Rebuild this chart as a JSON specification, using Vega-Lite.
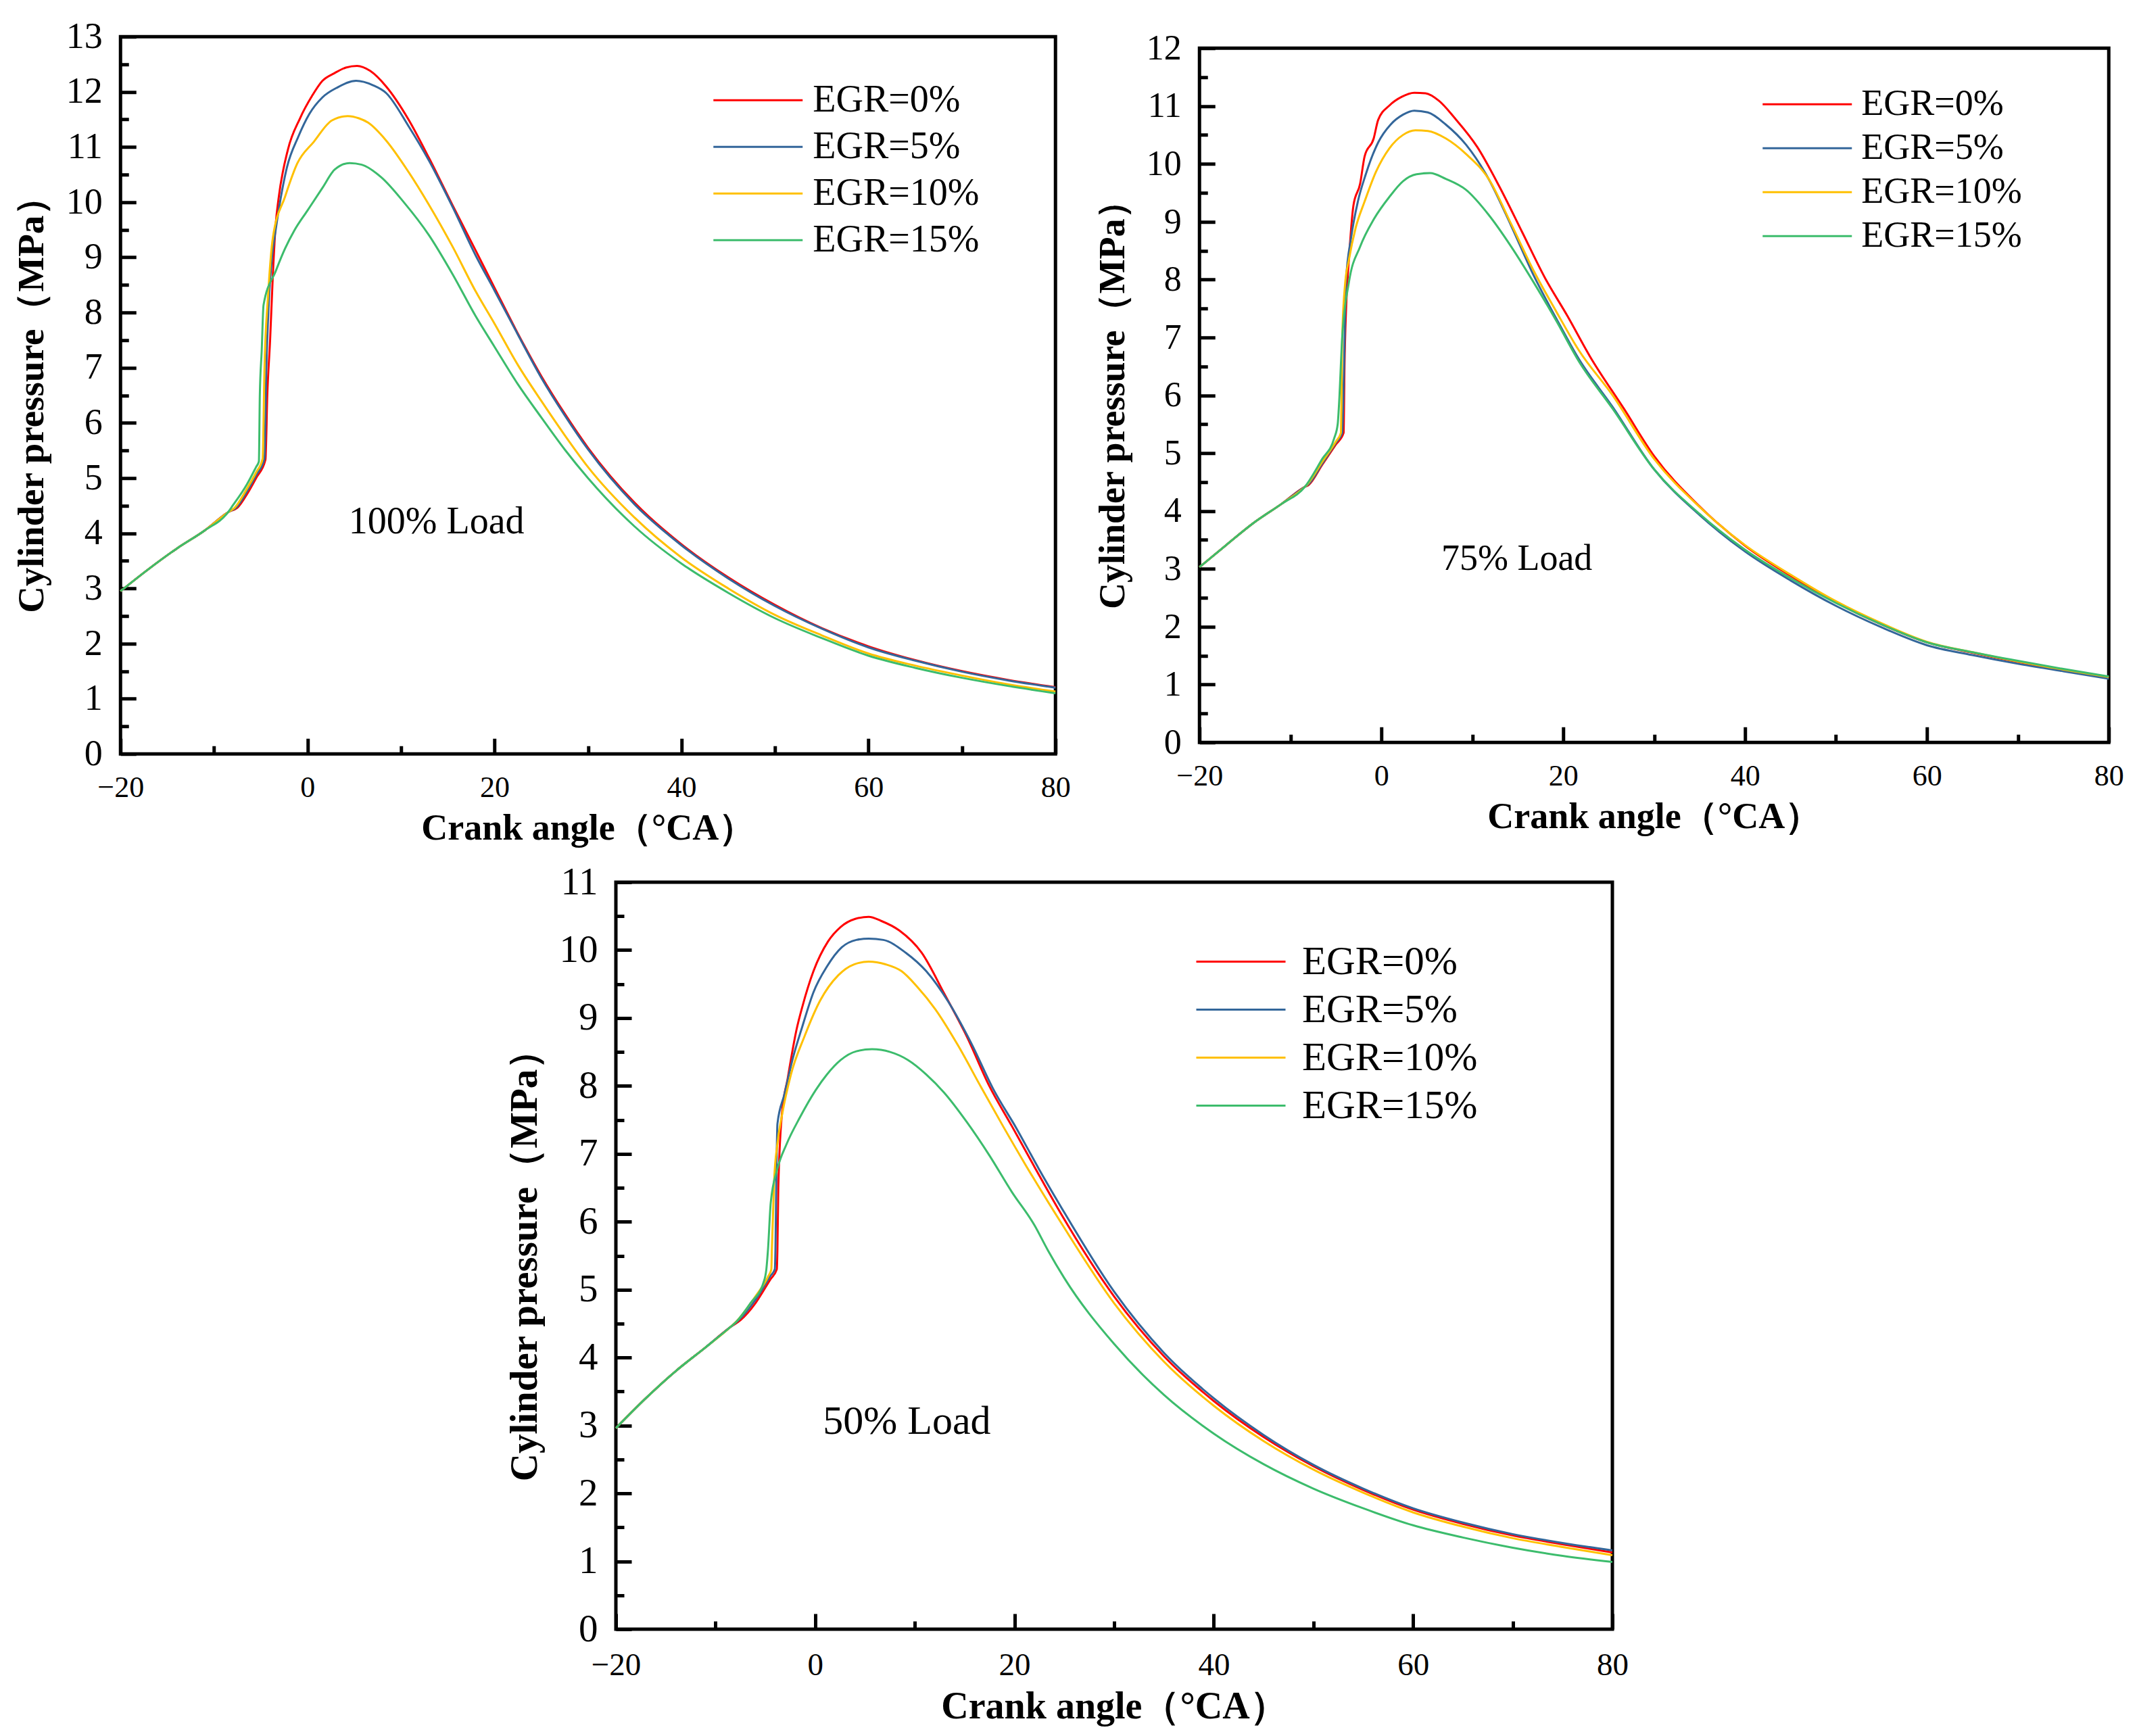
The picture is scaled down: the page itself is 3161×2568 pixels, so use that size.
{
  "$schema": "https://vega.github.io/schema/vega-lite/v6.json",
  "background": "white",
  "padding": {"left": 16, "top": 24, "right": 10, "bottom": 10},
  "config": {
    "font": "Liberation Serif",
    "view": {"stroke": "black", "strokeWidth": 5},
    "line": {"interpolate": "monotone", "strokeWidth": 3, "clip": true},
    "axis": {
      "domain": false,
      "grid": false,
      "tickColor": "black",
      "tickWidth": 5,
      "tickCap": "butt",
      "labelFont": "Liberation Serif",
      "labelColor": "black",
      "labelOverlap": false,
      "labelFlush": false,
      "labelBound": false,
      "titleFont": "Liberation Serif",
      "titleFontWeight": "bold",
      "titleColor": "black"
    },
    "legend": {
      "orient": "none",
      "padding": 0,
      "title": null,
      "symbolType": "M-3,0H3",
      "symbolSize": 1936,
      "symbolStrokeWidth": 3,
      "labelFont": "Liberation Serif",
      "labelColor": "black",
      "labelLimit": 0
    }
  },
  "datasets": {
    "load100": [
      {"egr": "EGR=0%", "angle": -20, "pressure": 2.95},
      {"egr": "EGR=0%", "angle": -17, "pressure": 3.35},
      {"egr": "EGR=0%", "angle": -14, "pressure": 3.72},
      {"egr": "EGR=0%", "angle": -11, "pressure": 4.05},
      {"egr": "EGR=0%", "angle": -8.5, "pressure": 4.38},
      {"egr": "EGR=0%", "angle": -7.4, "pressure": 4.48},
      {"egr": "EGR=0%", "angle": -6.5, "pressure": 4.7},
      {"egr": "EGR=0%", "angle": -5.5, "pressure": 5.0},
      {"egr": "EGR=0%", "angle": -4.5, "pressure": 5.33},
      {"egr": "EGR=0%", "angle": -4.3, "pressure": 6.5},
      {"egr": "EGR=0%", "angle": -4.0, "pressure": 7.5},
      {"egr": "EGR=0%", "angle": -3.7, "pressure": 8.7},
      {"egr": "EGR=0%", "angle": -3.4, "pressure": 9.6},
      {"egr": "EGR=0%", "angle": -3.1, "pressure": 10.06},
      {"egr": "EGR=0%", "angle": -2.1, "pressure": 10.95},
      {"egr": "EGR=0%", "angle": -0.8, "pressure": 11.52},
      {"egr": "EGR=0%", "angle": 0.5, "pressure": 11.93},
      {"egr": "EGR=0%", "angle": 1.6, "pressure": 12.2},
      {"egr": "EGR=0%", "angle": 2.9, "pressure": 12.34},
      {"egr": "EGR=0%", "angle": 4.1, "pressure": 12.44},
      {"egr": "EGR=0%", "angle": 5.3, "pressure": 12.47},
      {"egr": "EGR=0%", "angle": 6.7, "pressure": 12.38},
      {"egr": "EGR=0%", "angle": 8.4, "pressure": 12.1},
      {"egr": "EGR=0%", "angle": 10.8, "pressure": 11.5},
      {"egr": "EGR=0%", "angle": 13, "pressure": 10.8},
      {"egr": "EGR=0%", "angle": 15.5, "pressure": 9.95},
      {"egr": "EGR=0%", "angle": 18, "pressure": 9.12},
      {"egr": "EGR=0%", "angle": 20, "pressure": 8.45},
      {"egr": "EGR=0%", "angle": 22.5, "pressure": 7.62},
      {"egr": "EGR=0%", "angle": 25, "pressure": 6.85},
      {"egr": "EGR=0%", "angle": 27.5, "pressure": 6.17},
      {"egr": "EGR=0%", "angle": 30, "pressure": 5.55},
      {"egr": "EGR=0%", "angle": 35, "pressure": 4.55},
      {"egr": "EGR=0%", "angle": 40, "pressure": 3.8},
      {"egr": "EGR=0%", "angle": 45, "pressure": 3.2},
      {"egr": "EGR=0%", "angle": 50, "pressure": 2.7},
      {"egr": "EGR=0%", "angle": 55, "pressure": 2.28},
      {"egr": "EGR=0%", "angle": 60, "pressure": 1.95},
      {"egr": "EGR=0%", "angle": 65, "pressure": 1.7},
      {"egr": "EGR=0%", "angle": 70, "pressure": 1.5},
      {"egr": "EGR=0%", "angle": 75, "pressure": 1.34},
      {"egr": "EGR=0%", "angle": 80, "pressure": 1.21},

      {"egr": "EGR=5%", "angle": -20, "pressure": 2.95},
      {"egr": "EGR=5%", "angle": -17, "pressure": 3.35},
      {"egr": "EGR=5%", "angle": -14, "pressure": 3.72},
      {"egr": "EGR=5%", "angle": -11, "pressure": 4.05},
      {"egr": "EGR=5%", "angle": -8.5, "pressure": 4.38},
      {"egr": "EGR=5%", "angle": -7.6, "pressure": 4.47},
      {"egr": "EGR=5%", "angle": -6.5, "pressure": 4.75},
      {"egr": "EGR=5%", "angle": -5.5, "pressure": 5.05},
      {"egr": "EGR=5%", "angle": -4.6, "pressure": 5.35},
      {"egr": "EGR=5%", "angle": -4.4, "pressure": 7.0},
      {"egr": "EGR=5%", "angle": -4.1, "pressure": 8.3},
      {"egr": "EGR=5%", "angle": -3.8, "pressure": 9.0},
      {"egr": "EGR=5%", "angle": -3.4, "pressure": 9.5},
      {"egr": "EGR=5%", "angle": -2.2, "pressure": 10.63},
      {"egr": "EGR=5%", "angle": -1.0, "pressure": 11.18},
      {"egr": "EGR=5%", "angle": 0.2, "pressure": 11.6},
      {"egr": "EGR=5%", "angle": 1.6, "pressure": 11.9},
      {"egr": "EGR=5%", "angle": 3.2, "pressure": 12.08},
      {"egr": "EGR=5%", "angle": 5.2, "pressure": 12.2},
      {"egr": "EGR=5%", "angle": 7.0, "pressure": 12.12},
      {"egr": "EGR=5%", "angle": 8.4, "pressure": 11.98},
      {"egr": "EGR=5%", "angle": 10.8, "pressure": 11.38},
      {"egr": "EGR=5%", "angle": 13, "pressure": 10.75},
      {"egr": "EGR=5%", "angle": 15.5, "pressure": 9.92},
      {"egr": "EGR=5%", "angle": 18, "pressure": 9.03},
      {"egr": "EGR=5%", "angle": 20, "pressure": 8.4},
      {"egr": "EGR=5%", "angle": 22.5, "pressure": 7.6},
      {"egr": "EGR=5%", "angle": 25, "pressure": 6.82},
      {"egr": "EGR=5%", "angle": 27.5, "pressure": 6.14},
      {"egr": "EGR=5%", "angle": 30, "pressure": 5.52},
      {"egr": "EGR=5%", "angle": 35, "pressure": 4.52},
      {"egr": "EGR=5%", "angle": 40, "pressure": 3.78},
      {"egr": "EGR=5%", "angle": 45, "pressure": 3.18},
      {"egr": "EGR=5%", "angle": 50, "pressure": 2.68},
      {"egr": "EGR=5%", "angle": 55, "pressure": 2.27},
      {"egr": "EGR=5%", "angle": 60, "pressure": 1.93},
      {"egr": "EGR=5%", "angle": 65, "pressure": 1.69},
      {"egr": "EGR=5%", "angle": 70, "pressure": 1.49},
      {"egr": "EGR=5%", "angle": 75, "pressure": 1.33},
      {"egr": "EGR=5%", "angle": 80, "pressure": 1.2},

      {"egr": "EGR=10%", "angle": -20, "pressure": 2.95},
      {"egr": "EGR=10%", "angle": -17, "pressure": 3.35},
      {"egr": "EGR=10%", "angle": -14, "pressure": 3.72},
      {"egr": "EGR=10%", "angle": -11, "pressure": 4.05},
      {"egr": "EGR=10%", "angle": -8.5, "pressure": 4.38},
      {"egr": "EGR=10%", "angle": -7.8, "pressure": 4.46},
      {"egr": "EGR=10%", "angle": -6.5, "pressure": 4.8},
      {"egr": "EGR=10%", "angle": -5.5, "pressure": 5.1},
      {"egr": "EGR=10%", "angle": -4.8, "pressure": 5.35},
      {"egr": "EGR=10%", "angle": -4.6, "pressure": 7.0},
      {"egr": "EGR=10%", "angle": -4.2, "pressure": 8.35},
      {"egr": "EGR=10%", "angle": -3.7, "pressure": 9.36},
      {"egr": "EGR=10%", "angle": -2.4, "pressure": 10.1},
      {"egr": "EGR=10%", "angle": -1.1, "pressure": 10.7},
      {"egr": "EGR=10%", "angle": 0.7, "pressure": 11.1},
      {"egr": "EGR=10%", "angle": 2.6, "pressure": 11.48},
      {"egr": "EGR=10%", "angle": 4.3, "pressure": 11.56},
      {"egr": "EGR=10%", "angle": 5.5, "pressure": 11.52},
      {"egr": "EGR=10%", "angle": 6.5, "pressure": 11.44},
      {"egr": "EGR=10%", "angle": 8.4, "pressure": 11.12},
      {"egr": "EGR=10%", "angle": 10.8, "pressure": 10.55},
      {"egr": "EGR=10%", "angle": 13, "pressure": 9.95},
      {"egr": "EGR=10%", "angle": 15.5, "pressure": 9.2},
      {"egr": "EGR=10%", "angle": 18, "pressure": 8.38},
      {"egr": "EGR=10%", "angle": 20, "pressure": 7.8},
      {"egr": "EGR=10%", "angle": 22.5, "pressure": 7.05},
      {"egr": "EGR=10%", "angle": 25, "pressure": 6.4},
      {"egr": "EGR=10%", "angle": 27.5, "pressure": 5.78},
      {"egr": "EGR=10%", "angle": 30, "pressure": 5.2},
      {"egr": "EGR=10%", "angle": 35, "pressure": 4.28},
      {"egr": "EGR=10%", "angle": 40, "pressure": 3.56},
      {"egr": "EGR=10%", "angle": 45, "pressure": 3.0},
      {"egr": "EGR=10%", "angle": 50, "pressure": 2.52},
      {"egr": "EGR=10%", "angle": 55, "pressure": 2.15},
      {"egr": "EGR=10%", "angle": 60, "pressure": 1.82},
      {"egr": "EGR=10%", "angle": 65, "pressure": 1.6},
      {"egr": "EGR=10%", "angle": 70, "pressure": 1.42},
      {"egr": "EGR=10%", "angle": 75, "pressure": 1.26},
      {"egr": "EGR=10%", "angle": 80, "pressure": 1.13},

      {"egr": "EGR=15%", "angle": -20, "pressure": 2.95},
      {"egr": "EGR=15%", "angle": -17, "pressure": 3.35},
      {"egr": "EGR=15%", "angle": -14, "pressure": 3.72},
      {"egr": "EGR=15%", "angle": -11, "pressure": 4.05},
      {"egr": "EGR=15%", "angle": -8.5, "pressure": 4.38},
      {"egr": "EGR=15%", "angle": -8.0, "pressure": 4.5},
      {"egr": "EGR=15%", "angle": -6.5, "pressure": 4.88},
      {"egr": "EGR=15%", "angle": -5.5, "pressure": 5.2},
      {"egr": "EGR=15%", "angle": -5.2, "pressure": 5.3},
      {"egr": "EGR=15%", "angle": -5.1, "pressure": 6.5},
      {"egr": "EGR=15%", "angle": -4.9, "pressure": 7.3},
      {"egr": "EGR=15%", "angle": -4.7, "pressure": 8.14},
      {"egr": "EGR=15%", "angle": -3.4, "pressure": 8.75},
      {"egr": "EGR=15%", "angle": -2.4, "pressure": 9.16},
      {"egr": "EGR=15%", "angle": -1.4, "pressure": 9.49},
      {"egr": "EGR=15%", "angle": 0.0, "pressure": 9.85},
      {"egr": "EGR=15%", "angle": 1.6, "pressure": 10.26},
      {"egr": "EGR=15%", "angle": 2.9, "pressure": 10.59},
      {"egr": "EGR=15%", "angle": 4.5, "pressure": 10.71},
      {"egr": "EGR=15%", "angle": 5.8, "pressure": 10.68},
      {"egr": "EGR=15%", "angle": 7.9, "pressure": 10.45},
      {"egr": "EGR=15%", "angle": 10.3, "pressure": 10.0},
      {"egr": "EGR=15%", "angle": 13, "pressure": 9.4},
      {"egr": "EGR=15%", "angle": 15.5, "pressure": 8.7},
      {"egr": "EGR=15%", "angle": 18, "pressure": 7.93},
      {"egr": "EGR=15%", "angle": 20, "pressure": 7.38},
      {"egr": "EGR=15%", "angle": 22.5, "pressure": 6.7},
      {"egr": "EGR=15%", "angle": 25, "pressure": 6.1},
      {"egr": "EGR=15%", "angle": 27.5, "pressure": 5.52},
      {"egr": "EGR=15%", "angle": 30, "pressure": 5.0},
      {"egr": "EGR=15%", "angle": 35, "pressure": 4.12},
      {"egr": "EGR=15%", "angle": 40, "pressure": 3.45},
      {"egr": "EGR=15%", "angle": 45, "pressure": 2.92},
      {"egr": "EGR=15%", "angle": 50, "pressure": 2.46},
      {"egr": "EGR=15%", "angle": 55, "pressure": 2.1},
      {"egr": "EGR=15%", "angle": 60, "pressure": 1.78},
      {"egr": "EGR=15%", "angle": 65, "pressure": 1.56},
      {"egr": "EGR=15%", "angle": 70, "pressure": 1.38},
      {"egr": "EGR=15%", "angle": 75, "pressure": 1.23},
      {"egr": "EGR=15%", "angle": 80, "pressure": 1.1}
    ],
    "load75": [
      {"egr": "EGR=0%", "angle": -20, "pressure": 3.03},
      {"egr": "EGR=0%", "angle": -17, "pressure": 3.42},
      {"egr": "EGR=0%", "angle": -14, "pressure": 3.8},
      {"egr": "EGR=0%", "angle": -11, "pressure": 4.12},
      {"egr": "EGR=0%", "angle": -8.4, "pressure": 4.42},
      {"egr": "EGR=0%", "angle": -8.0, "pressure": 4.45},
      {"egr": "EGR=0%", "angle": -6.5, "pressure": 4.8},
      {"egr": "EGR=0%", "angle": -5, "pressure": 5.15},
      {"egr": "EGR=0%", "angle": -4.15, "pressure": 5.35},
      {"egr": "EGR=0%", "angle": -4.05, "pressure": 6.5},
      {"egr": "EGR=0%", "angle": -3.85, "pressure": 7.6},
      {"egr": "EGR=0%", "angle": -3.57, "pressure": 8.34},
      {"egr": "EGR=0%", "angle": -3.07, "pressure": 9.28},
      {"egr": "EGR=0%", "angle": -2.33, "pressure": 9.66},
      {"egr": "EGR=0%", "angle": -1.84, "pressure": 10.13},
      {"egr": "EGR=0%", "angle": -0.84, "pressure": 10.44},
      {"egr": "EGR=0%", "angle": -0.35, "pressure": 10.76},
      {"egr": "EGR=0%", "angle": 0.89, "pressure": 11.01},
      {"egr": "EGR=0%", "angle": 2.25, "pressure": 11.16},
      {"egr": "EGR=0%", "angle": 3.62, "pressure": 11.23},
      {"egr": "EGR=0%", "angle": 4.86, "pressure": 11.22},
      {"egr": "EGR=0%", "angle": 6.34, "pressure": 11.09},
      {"egr": "EGR=0%", "angle": 8.08, "pressure": 10.79},
      {"egr": "EGR=0%", "angle": 10.56, "pressure": 10.29},
      {"egr": "EGR=0%", "angle": 13.04, "pressure": 9.59},
      {"egr": "EGR=0%", "angle": 15.52, "pressure": 8.81},
      {"egr": "EGR=0%", "angle": 17.99, "pressure": 8.03},
      {"egr": "EGR=0%", "angle": 20.47, "pressure": 7.37},
      {"egr": "EGR=0%", "angle": 22.95, "pressure": 6.67},
      {"egr": "EGR=0%", "angle": 26.67, "pressure": 5.77},
      {"egr": "EGR=0%", "angle": 30, "pressure": 4.95},
      {"egr": "EGR=0%", "angle": 35, "pressure": 4.08},
      {"egr": "EGR=0%", "angle": 40, "pressure": 3.4},
      {"egr": "EGR=0%", "angle": 45, "pressure": 2.88},
      {"egr": "EGR=0%", "angle": 50, "pressure": 2.42},
      {"egr": "EGR=0%", "angle": 55, "pressure": 2.04},
      {"egr": "EGR=0%", "angle": 60, "pressure": 1.73},
      {"egr": "EGR=0%", "angle": 65, "pressure": 1.55},
      {"egr": "EGR=0%", "angle": 70, "pressure": 1.39},
      {"egr": "EGR=0%", "angle": 75, "pressure": 1.25},
      {"egr": "EGR=0%", "angle": 80, "pressure": 1.12},

      {"egr": "EGR=5%", "angle": -20, "pressure": 3.03},
      {"egr": "EGR=5%", "angle": -17, "pressure": 3.42},
      {"egr": "EGR=5%", "angle": -14, "pressure": 3.8},
      {"egr": "EGR=5%", "angle": -11, "pressure": 4.12},
      {"egr": "EGR=5%", "angle": -8.4, "pressure": 4.42},
      {"egr": "EGR=5%", "angle": -8.1, "pressure": 4.45},
      {"egr": "EGR=5%", "angle": -6.5, "pressure": 4.82},
      {"egr": "EGR=5%", "angle": -5, "pressure": 5.18},
      {"egr": "EGR=5%", "angle": -4.3, "pressure": 5.35},
      {"egr": "EGR=5%", "angle": -4.1, "pressure": 6.5},
      {"egr": "EGR=5%", "angle": -3.9, "pressure": 7.95},
      {"egr": "EGR=5%", "angle": -3.32, "pressure": 8.73},
      {"egr": "EGR=5%", "angle": -2.58, "pressure": 9.35},
      {"egr": "EGR=5%", "angle": -1.71, "pressure": 9.82},
      {"egr": "EGR=5%", "angle": -0.35, "pressure": 10.37},
      {"egr": "EGR=5%", "angle": 1.02, "pressure": 10.68},
      {"egr": "EGR=5%", "angle": 2.38, "pressure": 10.85},
      {"egr": "EGR=5%", "angle": 3.62, "pressure": 10.92},
      {"egr": "EGR=5%", "angle": 5.11, "pressure": 10.89},
      {"egr": "EGR=5%", "angle": 7.09, "pressure": 10.68},
      {"egr": "EGR=5%", "angle": 9.32, "pressure": 10.33},
      {"egr": "EGR=5%", "angle": 11.8, "pressure": 9.74},
      {"egr": "EGR=5%", "angle": 14.28, "pressure": 8.93},
      {"egr": "EGR=5%", "angle": 16.76, "pressure": 8.07},
      {"egr": "EGR=5%", "angle": 19.23, "pressure": 7.33},
      {"egr": "EGR=5%", "angle": 21.71, "pressure": 6.63},
      {"egr": "EGR=5%", "angle": 25.43, "pressure": 5.8},
      {"egr": "EGR=5%", "angle": 30, "pressure": 4.72},
      {"egr": "EGR=5%", "angle": 35, "pressure": 3.93},
      {"egr": "EGR=5%", "angle": 40, "pressure": 3.3},
      {"egr": "EGR=5%", "angle": 45, "pressure": 2.8},
      {"egr": "EGR=5%", "angle": 50, "pressure": 2.36},
      {"egr": "EGR=5%", "angle": 55, "pressure": 1.99},
      {"egr": "EGR=5%", "angle": 60, "pressure": 1.68},
      {"egr": "EGR=5%", "angle": 65, "pressure": 1.51},
      {"egr": "EGR=5%", "angle": 70, "pressure": 1.36},
      {"egr": "EGR=5%", "angle": 75, "pressure": 1.23},
      {"egr": "EGR=5%", "angle": 80, "pressure": 1.1},

      {"egr": "EGR=10%", "angle": -20, "pressure": 3.03},
      {"egr": "EGR=10%", "angle": -17, "pressure": 3.42},
      {"egr": "EGR=10%", "angle": -14, "pressure": 3.8},
      {"egr": "EGR=10%", "angle": -11, "pressure": 4.12},
      {"egr": "EGR=10%", "angle": -8.4, "pressure": 4.42},
      {"egr": "EGR=10%", "angle": -8.2, "pressure": 4.45},
      {"egr": "EGR=10%", "angle": -6.5, "pressure": 4.85},
      {"egr": "EGR=10%", "angle": -5, "pressure": 5.2},
      {"egr": "EGR=10%", "angle": -4.45, "pressure": 5.35},
      {"egr": "EGR=10%", "angle": -4.3, "pressure": 7.0},
      {"egr": "EGR=10%", "angle": -4.0, "pressure": 7.9},
      {"egr": "EGR=10%", "angle": -3.57, "pressure": 8.34},
      {"egr": "EGR=10%", "angle": -2.83, "pressure": 8.89},
      {"egr": "EGR=10%", "angle": -1.84, "pressure": 9.35},
      {"egr": "EGR=10%", "angle": -0.6, "pressure": 9.86},
      {"egr": "EGR=10%", "angle": 0.89, "pressure": 10.27},
      {"egr": "EGR=10%", "angle": 2.38, "pressure": 10.5},
      {"egr": "EGR=10%", "angle": 3.75, "pressure": 10.58},
      {"egr": "EGR=10%", "angle": 5.11, "pressure": 10.57},
      {"egr": "EGR=10%", "angle": 7.09, "pressure": 10.44},
      {"egr": "EGR=10%", "angle": 9.32, "pressure": 10.17},
      {"egr": "EGR=10%", "angle": 11.8, "pressure": 9.74},
      {"egr": "EGR=10%", "angle": 14.28, "pressure": 8.96},
      {"egr": "EGR=10%", "angle": 16.76, "pressure": 8.15},
      {"egr": "EGR=10%", "angle": 19.23, "pressure": 7.45},
      {"egr": "EGR=10%", "angle": 21.71, "pressure": 6.78},
      {"egr": "EGR=10%", "angle": 25.43, "pressure": 6.0},
      {"egr": "EGR=10%", "angle": 30, "pressure": 4.9},
      {"egr": "EGR=10%", "angle": 35, "pressure": 4.07},
      {"egr": "EGR=10%", "angle": 40, "pressure": 3.41},
      {"egr": "EGR=10%", "angle": 45, "pressure": 2.9},
      {"egr": "EGR=10%", "angle": 50, "pressure": 2.44},
      {"egr": "EGR=10%", "angle": 55, "pressure": 2.06},
      {"egr": "EGR=10%", "angle": 60, "pressure": 1.74},
      {"egr": "EGR=10%", "angle": 65, "pressure": 1.56},
      {"egr": "EGR=10%", "angle": 70, "pressure": 1.4},
      {"egr": "EGR=10%", "angle": 75, "pressure": 1.26},
      {"egr": "EGR=10%", "angle": 80, "pressure": 1.13},

      {"egr": "EGR=15%", "angle": -20, "pressure": 3.03},
      {"egr": "EGR=15%", "angle": -17, "pressure": 3.42},
      {"egr": "EGR=15%", "angle": -14, "pressure": 3.8},
      {"egr": "EGR=15%", "angle": -11, "pressure": 4.12},
      {"egr": "EGR=15%", "angle": -8.4, "pressure": 4.42},
      {"egr": "EGR=15%", "angle": -6.5, "pressure": 4.9},
      {"egr": "EGR=15%", "angle": -5.2, "pressure": 5.25},
      {"egr": "EGR=15%", "angle": -4.8, "pressure": 5.5},
      {"egr": "EGR=15%", "angle": -4.68, "pressure": 5.77},
      {"egr": "EGR=15%", "angle": -4.31, "pressure": 6.98},
      {"egr": "EGR=15%", "angle": -3.57, "pressure": 7.95},
      {"egr": "EGR=15%", "angle": -2.33, "pressure": 8.57},
      {"egr": "EGR=15%", "angle": -0.84, "pressure": 9.04},
      {"egr": "EGR=15%", "angle": 0.89, "pressure": 9.43},
      {"egr": "EGR=15%", "angle": 2.38, "pressure": 9.7},
      {"egr": "EGR=15%", "angle": 3.87, "pressure": 9.82},
      {"egr": "EGR=15%", "angle": 5.36, "pressure": 9.84},
      {"egr": "EGR=15%", "angle": 7.09, "pressure": 9.74},
      {"egr": "EGR=15%", "angle": 9.32, "pressure": 9.55},
      {"egr": "EGR=15%", "angle": 11.8, "pressure": 9.12},
      {"egr": "EGR=15%", "angle": 14.28, "pressure": 8.57},
      {"egr": "EGR=15%", "angle": 16.76, "pressure": 7.95},
      {"egr": "EGR=15%", "angle": 19.23, "pressure": 7.29},
      {"egr": "EGR=15%", "angle": 21.71, "pressure": 6.59},
      {"egr": "EGR=15%", "angle": 25.43, "pressure": 5.77},
      {"egr": "EGR=15%", "angle": 30, "pressure": 4.72},
      {"egr": "EGR=15%", "angle": 35, "pressure": 3.95},
      {"egr": "EGR=15%", "angle": 40, "pressure": 3.33},
      {"egr": "EGR=15%", "angle": 45, "pressure": 2.84},
      {"egr": "EGR=15%", "angle": 50, "pressure": 2.41},
      {"egr": "EGR=15%", "angle": 55, "pressure": 2.04},
      {"egr": "EGR=15%", "angle": 60, "pressure": 1.73},
      {"egr": "EGR=15%", "angle": 65, "pressure": 1.56},
      {"egr": "EGR=15%", "angle": 70, "pressure": 1.41},
      {"egr": "EGR=15%", "angle": 75, "pressure": 1.27},
      {"egr": "EGR=15%", "angle": 80, "pressure": 1.14}
    ],
    "load50": [
      {"egr": "EGR=0%", "angle": -20, "pressure": 2.96},
      {"egr": "EGR=0%", "angle": -17, "pressure": 3.4},
      {"egr": "EGR=0%", "angle": -14, "pressure": 3.8},
      {"egr": "EGR=0%", "angle": -11, "pressure": 4.15},
      {"egr": "EGR=0%", "angle": -8.5, "pressure": 4.45},
      {"egr": "EGR=0%", "angle": -7.5, "pressure": 4.55},
      {"egr": "EGR=0%", "angle": -6, "pressure": 4.8},
      {"egr": "EGR=0%", "angle": -4.5, "pressure": 5.15},
      {"egr": "EGR=0%", "angle": -3.85, "pressure": 5.3},
      {"egr": "EGR=0%", "angle": -3.79, "pressure": 5.58},
      {"egr": "EGR=0%", "angle": -3.7, "pressure": 6.5},
      {"egr": "EGR=0%", "angle": -3.33, "pressure": 7.6},
      {"egr": "EGR=0%", "angle": -2.77, "pressure": 8.1},
      {"egr": "EGR=0%", "angle": -1.87, "pressure": 8.83},
      {"egr": "EGR=0%", "angle": -1.3, "pressure": 9.16},
      {"egr": "EGR=0%", "angle": -0.17, "pressure": 9.69},
      {"egr": "EGR=0%", "angle": 1.3, "pressure": 10.13},
      {"egr": "EGR=0%", "angle": 2.55, "pressure": 10.34},
      {"egr": "EGR=0%", "angle": 4.02, "pressure": 10.46},
      {"egr": "EGR=0%", "angle": 5.37, "pressure": 10.49},
      {"egr": "EGR=0%", "angle": 6.62, "pressure": 10.43},
      {"egr": "EGR=0%", "angle": 8.43, "pressure": 10.29},
      {"egr": "EGR=0%", "angle": 10.69, "pressure": 9.96},
      {"egr": "EGR=0%", "angle": 12.95, "pressure": 9.36},
      {"egr": "EGR=0%", "angle": 15.21, "pressure": 8.73},
      {"egr": "EGR=0%", "angle": 17.47, "pressure": 8.0},
      {"egr": "EGR=0%", "angle": 19.73, "pressure": 7.41},
      {"egr": "EGR=0%", "angle": 22.0, "pressure": 6.81},
      {"egr": "EGR=0%", "angle": 24.7, "pressure": 6.11},
      {"egr": "EGR=0%", "angle": 30, "pressure": 4.9},
      {"egr": "EGR=0%", "angle": 35, "pressure": 4.02},
      {"egr": "EGR=0%", "angle": 40, "pressure": 3.36},
      {"egr": "EGR=0%", "angle": 45, "pressure": 2.83},
      {"egr": "EGR=0%", "angle": 50, "pressure": 2.4},
      {"egr": "EGR=0%", "angle": 55, "pressure": 2.05},
      {"egr": "EGR=0%", "angle": 60, "pressure": 1.76},
      {"egr": "EGR=0%", "angle": 65, "pressure": 1.55},
      {"egr": "EGR=0%", "angle": 70, "pressure": 1.38},
      {"egr": "EGR=0%", "angle": 75, "pressure": 1.25},
      {"egr": "EGR=0%", "angle": 80, "pressure": 1.13},

      {"egr": "EGR=5%", "angle": -20, "pressure": 2.96},
      {"egr": "EGR=5%", "angle": -17, "pressure": 3.4},
      {"egr": "EGR=5%", "angle": -14, "pressure": 3.8},
      {"egr": "EGR=5%", "angle": -11, "pressure": 4.15},
      {"egr": "EGR=5%", "angle": -8.5, "pressure": 4.45},
      {"egr": "EGR=5%", "angle": -7.7, "pressure": 4.55},
      {"egr": "EGR=5%", "angle": -6, "pressure": 4.85},
      {"egr": "EGR=5%", "angle": -4.5, "pressure": 5.2},
      {"egr": "EGR=5%", "angle": -4.05, "pressure": 5.3},
      {"egr": "EGR=5%", "angle": -3.99, "pressure": 5.58},
      {"egr": "EGR=5%", "angle": -3.9, "pressure": 6.6},
      {"egr": "EGR=5%", "angle": -3.79, "pressure": 7.44},
      {"egr": "EGR=5%", "angle": -3.1, "pressure": 7.87},
      {"egr": "EGR=5%", "angle": -2.2, "pressure": 8.43},
      {"egr": "EGR=5%", "angle": -1.3, "pressure": 8.87},
      {"egr": "EGR=5%", "angle": -0.17, "pressure": 9.38},
      {"egr": "EGR=5%", "angle": 1.19, "pressure": 9.76},
      {"egr": "EGR=5%", "angle": 2.66, "pressure": 10.04},
      {"egr": "EGR=5%", "angle": 4.13, "pressure": 10.15},
      {"egr": "EGR=5%", "angle": 5.37, "pressure": 10.17},
      {"egr": "EGR=5%", "angle": 6.84, "pressure": 10.15},
      {"egr": "EGR=5%", "angle": 9.1, "pressure": 9.96},
      {"egr": "EGR=5%", "angle": 11.14, "pressure": 9.69},
      {"egr": "EGR=5%", "angle": 13.4, "pressure": 9.23},
      {"egr": "EGR=5%", "angle": 15.66, "pressure": 8.63},
      {"egr": "EGR=5%", "angle": 17.92, "pressure": 7.94},
      {"egr": "EGR=5%", "angle": 20.18, "pressure": 7.38},
      {"egr": "EGR=5%", "angle": 22.44, "pressure": 6.78},
      {"egr": "EGR=5%", "angle": 24.7, "pressure": 6.21},
      {"egr": "EGR=5%", "angle": 30, "pressure": 4.97},
      {"egr": "EGR=5%", "angle": 35, "pressure": 4.07},
      {"egr": "EGR=5%", "angle": 40, "pressure": 3.4},
      {"egr": "EGR=5%", "angle": 45, "pressure": 2.86},
      {"egr": "EGR=5%", "angle": 50, "pressure": 2.42},
      {"egr": "EGR=5%", "angle": 55, "pressure": 2.07},
      {"egr": "EGR=5%", "angle": 60, "pressure": 1.78},
      {"egr": "EGR=5%", "angle": 65, "pressure": 1.57},
      {"egr": "EGR=5%", "angle": 70, "pressure": 1.4},
      {"egr": "EGR=5%", "angle": 75, "pressure": 1.27},
      {"egr": "EGR=5%", "angle": 80, "pressure": 1.16},

      {"egr": "EGR=10%", "angle": -20, "pressure": 2.96},
      {"egr": "EGR=10%", "angle": -17, "pressure": 3.4},
      {"egr": "EGR=10%", "angle": -14, "pressure": 3.8},
      {"egr": "EGR=10%", "angle": -11, "pressure": 4.15},
      {"egr": "EGR=10%", "angle": -8.5, "pressure": 4.45},
      {"egr": "EGR=10%", "angle": -7.8, "pressure": 4.55},
      {"egr": "EGR=10%", "angle": -6, "pressure": 4.9},
      {"egr": "EGR=10%", "angle": -4.7, "pressure": 5.2},
      {"egr": "EGR=10%", "angle": -4.4, "pressure": 5.3},
      {"egr": "EGR=10%", "angle": -4.35, "pressure": 5.58},
      {"egr": "EGR=10%", "angle": -4.12, "pressure": 6.6},
      {"egr": "EGR=10%", "angle": -3.79, "pressure": 7.15},
      {"egr": "EGR=10%", "angle": -3.33, "pressure": 7.57},
      {"egr": "EGR=10%", "angle": -2.43, "pressure": 8.17},
      {"egr": "EGR=10%", "angle": -1.07, "pressure": 8.73},
      {"egr": "EGR=10%", "angle": 0.51, "pressure": 9.26},
      {"egr": "EGR=10%", "angle": 2.32, "pressure": 9.63},
      {"egr": "EGR=10%", "angle": 3.9, "pressure": 9.79},
      {"egr": "EGR=10%", "angle": 5.37, "pressure": 9.83},
      {"egr": "EGR=10%", "angle": 7.07, "pressure": 9.79},
      {"egr": "EGR=10%", "angle": 8.66, "pressure": 9.69},
      {"egr": "EGR=10%", "angle": 10.24, "pressure": 9.46},
      {"egr": "EGR=10%", "angle": 12.05, "pressure": 9.13},
      {"egr": "EGR=10%", "angle": 14.32, "pressure": 8.6},
      {"egr": "EGR=10%", "angle": 16.58, "pressure": 8.0},
      {"egr": "EGR=10%", "angle": 18.84, "pressure": 7.41},
      {"egr": "EGR=10%", "angle": 21.1, "pressure": 6.84},
      {"egr": "EGR=10%", "angle": 24.7, "pressure": 5.98},
      {"egr": "EGR=10%", "angle": 30, "pressure": 4.8},
      {"egr": "EGR=10%", "angle": 35, "pressure": 3.94},
      {"egr": "EGR=10%", "angle": 40, "pressure": 3.29},
      {"egr": "EGR=10%", "angle": 45, "pressure": 2.77},
      {"egr": "EGR=10%", "angle": 50, "pressure": 2.35},
      {"egr": "EGR=10%", "angle": 55, "pressure": 2.01},
      {"egr": "EGR=10%", "angle": 60, "pressure": 1.72},
      {"egr": "EGR=10%", "angle": 65, "pressure": 1.51},
      {"egr": "EGR=10%", "angle": 70, "pressure": 1.34},
      {"egr": "EGR=10%", "angle": 75, "pressure": 1.21},
      {"egr": "EGR=10%", "angle": 80, "pressure": 1.09},

      {"egr": "EGR=15%", "angle": -20, "pressure": 2.96},
      {"egr": "EGR=15%", "angle": -17, "pressure": 3.4},
      {"egr": "EGR=15%", "angle": -14, "pressure": 3.8},
      {"egr": "EGR=15%", "angle": -11, "pressure": 4.15},
      {"egr": "EGR=15%", "angle": -8.5, "pressure": 4.45},
      {"egr": "EGR=15%", "angle": -8.1, "pressure": 4.5},
      {"egr": "EGR=15%", "angle": -6.5, "pressure": 4.8},
      {"egr": "EGR=15%", "angle": -5.2, "pressure": 5.1},
      {"egr": "EGR=15%", "angle": -4.9, "pressure": 5.3},
      {"egr": "EGR=15%", "angle": -4.74, "pressure": 5.58},
      {"egr": "EGR=15%", "angle": -4.46, "pressure": 6.28},
      {"egr": "EGR=15%", "angle": -3.79, "pressure": 6.78},
      {"egr": "EGR=15%", "angle": -2.88, "pressure": 7.14},
      {"egr": "EGR=15%", "angle": -1.52, "pressure": 7.54},
      {"egr": "EGR=15%", "angle": 0.06, "pressure": 7.94},
      {"egr": "EGR=15%", "angle": 1.19, "pressure": 8.17},
      {"egr": "EGR=15%", "angle": 2.55, "pressure": 8.38},
      {"egr": "EGR=15%", "angle": 4.13, "pressure": 8.51},
      {"egr": "EGR=15%", "angle": 5.71, "pressure": 8.54},
      {"egr": "EGR=15%", "angle": 7.52, "pressure": 8.5},
      {"egr": "EGR=15%", "angle": 9.33, "pressure": 8.38},
      {"egr": "EGR=15%", "angle": 11.14, "pressure": 8.17},
      {"egr": "EGR=15%", "angle": 12.95, "pressure": 7.9},
      {"egr": "EGR=15%", "angle": 15.21, "pressure": 7.47},
      {"egr": "EGR=15%", "angle": 17.47, "pressure": 6.98},
      {"egr": "EGR=15%", "angle": 19.73, "pressure": 6.44},
      {"egr": "EGR=15%", "angle": 22.0, "pressure": 5.95},
      {"egr": "EGR=15%", "angle": 23.35, "pressure": 5.58},
      {"egr": "EGR=15%", "angle": 25, "pressure": 5.17},
      {"egr": "EGR=15%", "angle": 30, "pressure": 4.2},
      {"egr": "EGR=15%", "angle": 35, "pressure": 3.45},
      {"egr": "EGR=15%", "angle": 40, "pressure": 2.88},
      {"egr": "EGR=15%", "angle": 45, "pressure": 2.43},
      {"egr": "EGR=15%", "angle": 50, "pressure": 2.07},
      {"egr": "EGR=15%", "angle": 55, "pressure": 1.78},
      {"egr": "EGR=15%", "angle": 60, "pressure": 1.53},
      {"egr": "EGR=15%", "angle": 65, "pressure": 1.35},
      {"egr": "EGR=15%", "angle": 70, "pressure": 1.2},
      {"egr": "EGR=15%", "angle": 75, "pressure": 1.08},
      {"egr": "EGR=15%", "angle": 80, "pressure": 0.99}
    ]
  },
  "center": true,
  "spacing": 18,
  "vconcat": [
    {
      "spacing": 30,
      "center": true,
      "hconcat": [
        {
          "width": 1383,
          "height": 1061,
          "layer": [
            {
              "data": {"name": "load100"},
              "mark": {"type": "line"},
              "encoding": {
                "x": {"field": "angle", "type": "quantitative", "scale": {"domain": [-20, 80]}, "title": "Crank angle（°CA）",
                      "axis": {"values": [-20, -10, 0, 10, 20, 30, 40, 50, 60, 70, 80],
                               "tickSize": {"condition": {"test": "datum.value % 20 != 0", "value": -12}, "value": -23},
                               "labelExpr": "datum.value % 20 == 0 ? datum.label : ''",
                               "labelPadding": 51, "titlePadding": 0,
                               "labelFontSize": 44, "titleFontSize": 54}},
                "y": {"field": "pressure", "type": "quantitative", "scale": {"domain": [0, 13]}, "title": "Cylinder pressure（MPa）",
                      "axis": {"values": [0, 0.5, 1, 1.5, 2, 2.5, 3, 3.5, 4, 4.5, 5, 5.5, 6, 6.5, 7, 7.5, 8, 8.5, 9, 9.5, 10, 10.5, 11, 11.5, 12, 12.5, 13],
                               "tickSize": {"condition": {"test": "datum.value % 1 != 0", "value": -12}, "value": -23},
                               "labelExpr": "datum.value % 1 == 0 ? format(datum.value, 'd') : ''",
                               "labelPadding": 50, "titlePadding": 22,
                               "labelFontSize": 54, "titleFontSize": 55}},
                "color": {"field": "egr", "type": "nominal",
                          "scale": {"domain": ["EGR=0%", "EGR=5%", "EGR=10%", "EGR=15%"], "range": ["#ff0000", "#33669a", "#ffc000", "#3cbc6c"]},
                          "legend": {"legendX": 915, "legendY": 66, "labelFontSize": 56, "labelOffset": 53, "rowPadding": 13}}
              }
            },
            {
              "data": {"values": [{"angle": 13.8, "pressure": 4.2, "label": "100% Load"}]},
              "mark": {"type": "text", "font": "Liberation Serif", "fontSize": 56, "color": "black"},
              "encoding": {
                "x": {"field": "angle", "type": "quantitative"},
                "y": {"field": "pressure", "type": "quantitative"},
                "text": {"field": "label"}
              }
            }
          ]
        },
        {
          "width": 1345,
          "height": 1027,
          "layer": [
            {
              "data": {"name": "load75"},
              "mark": {"type": "line"},
              "encoding": {
                "x": {"field": "angle", "type": "quantitative", "scale": {"domain": [-20, 80]}, "title": "Crank angle（°CA）",
                      "axis": {"values": [-20, -10, 0, 10, 20, 30, 40, 50, 60, 70, 80],
                               "tickSize": {"condition": {"test": "datum.value % 20 != 0", "value": -12}, "value": -23},
                               "labelExpr": "datum.value % 20 == 0 ? datum.label : ''",
                               "labelPadding": 51, "titlePadding": 0,
                               "labelFontSize": 44, "titleFontSize": 54}},
                "y": {"field": "pressure", "type": "quantitative", "scale": {"domain": [0, 12]}, "title": "Cylinder pressure（MPa）",
                      "axis": {"values": [0, 0.5, 1, 1.5, 2, 2.5, 3, 3.5, 4, 4.5, 5, 5.5, 6, 6.5, 7, 7.5, 8, 8.5, 9, 9.5, 10, 10.5, 11, 11.5, 12],
                               "tickSize": {"condition": {"test": "datum.value % 1 != 0", "value": -12}, "value": -23},
                               "labelExpr": "datum.value % 1 == 0 ? format(datum.value, 'd') : ''",
                               "labelPadding": 50, "titlePadding": 22,
                               "labelFontSize": 52, "titleFontSize": 54}},
                "color": {"field": "egr", "type": "nominal",
                          "scale": {"domain": ["EGR=0%", "EGR=5%", "EGR=10%", "EGR=15%"], "range": ["#ff0000", "#33669a", "#ffc000", "#3cbc6c"]},
                          "legend": {"legendX": 872, "legendY": 56, "labelFontSize": 54, "labelOffset": 53, "rowPadding": 11}}
              }
            },
            {
              "data": {"values": [{"angle": 14.9, "pressure": 3.17, "label": "75% Load"}]},
              "mark": {"type": "text", "font": "Liberation Serif", "fontSize": 54, "color": "black"},
              "encoding": {
                "x": {"field": "angle", "type": "quantitative"},
                "y": {"field": "pressure", "type": "quantitative"},
                "text": {"field": "label"}
              }
            }
          ]
        }
      ],
      "resolve": {"scale": {"color": "independent"}}
    },
    {
      "width": 1474,
      "height": 1105,
      "layer": [
        {
          "data": {"name": "load50"},
          "mark": {"type": "line"},
          "encoding": {
            "x": {"field": "angle", "type": "quantitative", "scale": {"domain": [-20, 80]}, "title": "Crank angle（°CA）",
                  "axis": {"values": [-20, -10, 0, 10, 20, 30, 40, 50, 60, 70, 80],
                           "tickSize": {"condition": {"test": "datum.value % 20 != 0", "value": -12}, "value": -23},
                           "labelExpr": "datum.value % 20 == 0 ? datum.label : ''",
                           "labelPadding": 53, "titlePadding": 0,
                           "labelFontSize": 47, "titleFontSize": 56}},
            "y": {"field": "pressure", "type": "quantitative", "scale": {"domain": [0, 11]}, "title": "Cylinder pressure（MPa）",
                  "axis": {"values": [0, 0.5, 1, 1.5, 2, 2.5, 3, 3.5, 4, 4.5, 5, 5.5, 6, 6.5, 7, 7.5, 8, 8.5, 9, 9.5, 10, 10.5, 11],
                           "tickSize": {"condition": {"test": "datum.value % 1 != 0", "value": -12}, "value": -23},
                           "labelExpr": "datum.value % 1 == 0 ? format(datum.value, 'd') : ''",
                           "labelPadding": 50, "titlePadding": 22,
                           "labelFontSize": 57, "titleFontSize": 57}},
            "color": {"field": "egr", "type": "nominal",
                      "scale": {"domain": ["EGR=0%", "EGR=5%", "EGR=10%", "EGR=15%"], "range": ["#ff0000", "#33669a", "#ffc000", "#3cbc6c"]},
                      "legend": {"legendX": 895, "legendY": 88, "labelFontSize": 59, "labelOffset": 61, "rowPadding": 11}}
          }
        },
        {
          "data": {"values": [{"angle": 9.2, "pressure": 3.06, "label": "50% Load"}]},
          "mark": {"type": "text", "font": "Liberation Serif", "fontSize": 60, "color": "black"},
          "encoding": {
            "x": {"field": "angle", "type": "quantitative"},
            "y": {"field": "pressure", "type": "quantitative"},
            "text": {"field": "label"}
          }
        }
      ]
    }
  ],
  "resolve": {"scale": {"color": "independent"}}
}
